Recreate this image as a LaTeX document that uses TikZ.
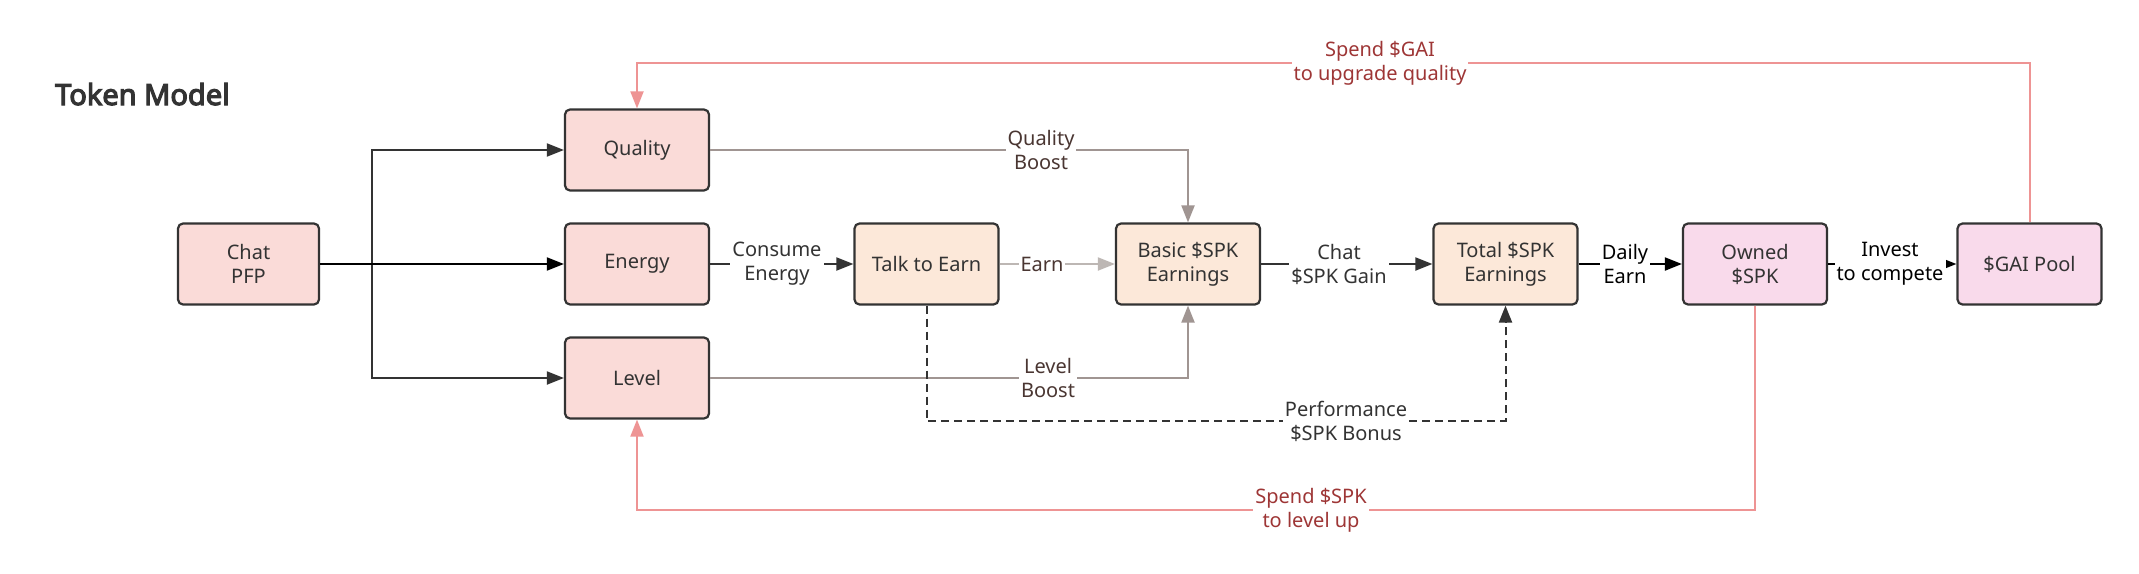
\documentclass[tikz,border=0pt]{standalone}
\usepackage{fontspec}
\setmainfont{Noto Sans}[AutoFakeBold=4]
\usetikzlibrary{arrows.meta}
\definecolor{pinkfill}{HTML}{FADBD8}
\definecolor{beigefill}{HTML}{FCE8D9}
\definecolor{lavfill}{HTML}{F9DAEB}
\definecolor{boxline}{HTML}{333333}
\definecolor{boostgray}{HTML}{A09592}
\definecolor{earngray}{HTML}{BDB7B4}
\definecolor{pinkline}{HTML}{EE9494}
\definecolor{redtext}{HTML}{9E3636}
\definecolor{browntext}{HTML}{4A3632}
\begin{document}
\begin{tikzpicture}[x=1pt,y=-1pt,
  box/.style={draw=boxline, line width=2.2pt, rounded corners=5pt, minimum width=144pt,
    minimum height=81pt, align=center, font=\fontsize{20}{24}\selectfont, text=boxline, inner sep=0pt},
  pinkbox/.style={box, fill=pinkfill},
  beigebox/.style={box, fill=beigefill},
  lavbox/.style={box, fill=lavfill},
  lbl/.style={fill=white, inner sep=2pt, align=center, font=\fontsize{20}{24}\selectfont},
  tip/.style={-{Triangle[length=17pt,width=13pt]}},
  conn/.style={tip, draw=boxline, line width=2pt},
  blackconn/.style={tip, draw=black, line width=2pt},
  boostconn/.style={tip, draw=boostgray, line width=2pt},
  earnconn/.style={tip, draw=earngray, line width=2pt},
  dashconn/.style={tip, draw=boxline, line width=2pt, dash pattern=on 8pt off 5pt},
  pinkconn/.style={tip, draw=pinkline, line width=2pt},
]
\useasboundingbox[fill=white] (0,0) rectangle (2139,573);

\node[anchor=base west, font=\bfseries\fontsize{29}{33}\selectfont, text=boxline, inner sep=0pt] (title) at (55,105) {Token Model};

\node[pinkbox, minimum width=141pt] (chat) at (248.5,264) {Chat\\PFP};
\node[pinkbox] (quality) at (637,150) {Quality};
\node[pinkbox] (energy) at (637,264) {Energy};
\node[pinkbox] (level) at (637,378) {Level};
\node[beigebox] (talk) at (926.5,264) {Talk to Earn};
\node[beigebox] (basic) at (1188,264) {Basic \$SPK\\Earnings};
\node[beigebox] (total) at (1505.5,264) {Total \$SPK\\Earnings};
\node[lavbox] (owned) at (1755,264) {Owned\\\$SPK};
\node[lavbox] (gai) at (2029.5,264) {\$GAI Pool};

\coordinate (split) at (372,264);
\coordinate (ytop) at (0,63);
\coordinate (ybot) at (0,510);
\coordinate (ydash) at (0,421);

% Chat PFP fan-out
\draw[conn] (chat.east) -- (split) |- (quality.west);
\draw[conn] (chat.east) -- (split) |- (level.west);
\draw[blackconn] (chat.east) -- (energy.west);

% main flow
\draw[conn] (energy.east) -- (talk.west);
\draw[earnconn] (talk.east) -- (basic.west);
\draw[conn] (basic.east) -- (total.west);
\draw[blackconn] (total.east) -- (owned.west);
\draw[blackconn] (owned.east) -- (gai.west);

% boosts
\draw[boostconn] (quality.east) -| (basic.north);
\draw[boostconn] (level.east) -| (basic.south);

% performance bonus
\draw[dashconn] (talk.south) -- (talk.south |- ydash) -| (total.south);

% spending loops
\draw[pinkconn] (gai.north) -- (gai.north |- ytop) -| (quality.north);
\draw[pinkconn] (owned.south) -- (owned.south |- ybot) -| (level.south);

% labels
\node[lbl, text=boxline] (lconsume) at (777,264) {Consume\\Energy};
\node[lbl, text=browntext] (learn) at (1042,264) {Earn};
\node[lbl, text=boxline] (lchat) at (1339,264) {Chat\\\$SPK Gain};
\node[lbl, text=black] (ldaily) at (1625,264) {Daily\\Earn};
\node[lbl, text=black] (linvest) at (1890,264) {Invest\\to compete};
\node[lbl, text=browntext] (lqboost) at (1041,150) {Quality\\Boost};
\node[lbl, text=browntext] (llboost) at (1048,378) {Level\\Boost};
\node[lbl, text=boxline] (lperf) at (1346,421) {Performance\\\$SPK Bonus};
\node[lbl, text=redtext] (lspendspk) at (1311,510) {Spend \$SPK\\to level up};
\node[lbl, text=redtext] (lspendgai) at (1380,63) {Spend \$GAI\\to upgrade quality};
\end{tikzpicture}
\end{document}
